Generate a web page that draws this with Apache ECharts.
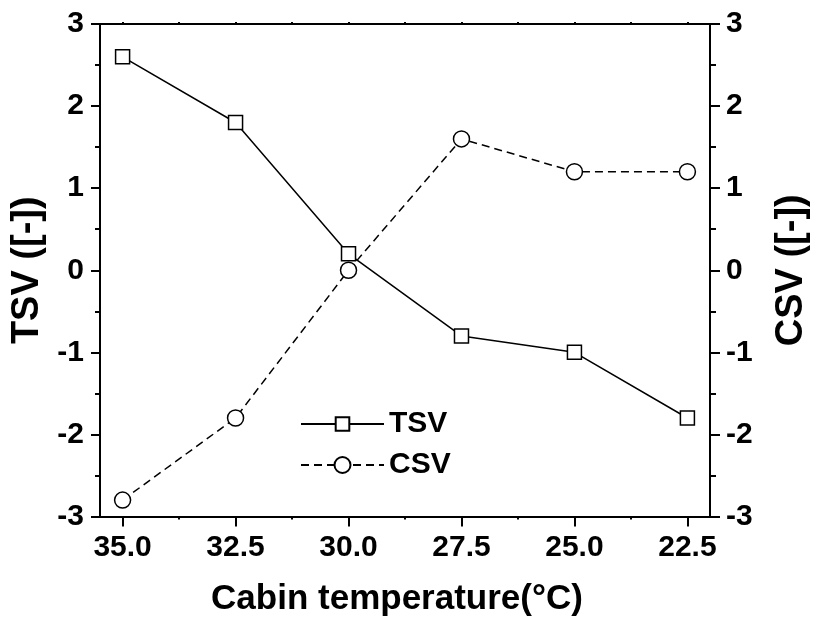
<!DOCTYPE html>
<html>
<head>
<meta charset="utf-8">
<script src="https://cdn.jsdelivr.net/npm/echarts@6/dist/echarts.min.js"></script>
<style>html,body{margin:0;padding:0;background:#fff}#c{width:820px;height:622px}</style>
</head>
<body>
<div id="c"></div>
<script>
var temperatures = [35.0, 32.5, 30.0, 27.5, 25.0, 22.5];
var tsv = [2.6, 1.8, 0.2, -0.8, -1.0, -1.8];
var csv = [-2.8, -1.8, 0.0, 1.6, 1.2, 1.2];
var xTicks = [35.0, 32.5, 30.0, 27.5, 25.0, 22.5];
var xMinorTicks = [33.75, 31.25, 28.75, 26.25, 23.75];

var FONT = 'Liberation Sans, Arial, sans-serif';
var chart = echarts.init(document.getElementById('c'), null, {renderer: 'canvas'});

function pairs(xs, ys) { return xs.map(function (x, i) { return [x, ys[i]]; }); }

var axisLine = {show: true, onZero: false, lineStyle: {color: '#000', width: 2}};
var labelStyle = {color: '#000', fontFamily: FONT, fontWeight: 'bold', fontSize: 30};

var option = {
  animation: false,
  backgroundColor: '#fff',
  grid: {left: 100, right: 110, top: 24, bottom: 101, containLabel: false},
  xAxis: [
    {
      type: 'value', min: 22, max: 35.5, inverse: true, position: 'bottom',
      axisLine: axisLine,
      axisTick: {show: true, customValues: xTicks, length: 10, lineStyle: {color: '#000', width: 2}},
      axisLabel: Object.assign({customValues: xTicks, margin: 16, formatter: function (v) { return v.toFixed(1); }}, labelStyle),
      splitLine: {show: false},
      name: 'Cabin temperature(\u00B0C)', nameLocation: 'middle', nameGap: 83,
      nameTextStyle: {color: '#000', fontFamily: FONT, fontWeight: 'bold', fontSize: 35, verticalAlign: 'middle', padding: [0, 16, 0, 0]}
    },
    {
      type: 'value', min: 22, max: 35.5, inverse: true, position: 'bottom', gridIndex: 0,
      axisLine: {show: false, onZero: false},
      axisTick: {show: true, customValues: xMinorTicks, length: 3, lineStyle: {color: '#000', width: 2}},
      axisLabel: {show: false}, splitLine: {show: false}
    },
    {
      type: 'value', min: 22, max: 35.5, inverse: true, position: 'top', gridIndex: 0,
      axisLine: axisLine,
      axisTick: {show: true, customValues: xTicks.concat(xMinorTicks), length: 2, lineStyle: {color: '#000', width: 2}},
      axisLabel: {show: false}, splitLine: {show: false}
    }
  ],
  yAxis: [
    {
      type: 'value', min: -3, max: 3, interval: 1, position: 'left',
      axisLine: axisLine,
      axisTick: {show: true, length: 9, lineStyle: {color: '#000', width: 2}},
      minorTick: {show: true, splitNumber: 2, length: 5, lineStyle: {color: '#000', width: 2}},
      axisLabel: Object.assign({margin: 16}, labelStyle),
      splitLine: {show: false},
      name: 'TSV ([-])', nameLocation: 'middle', nameGap: 72, nameRotate: 90,
      nameTextStyle: {color: '#000', fontFamily: FONT, fontWeight: 'bold', fontSize: 38, verticalAlign: 'middle'}
    },
    {
      type: 'value', min: -3, max: 3, interval: 1, position: 'right',
      axisLine: axisLine,
      axisTick: {show: true, length: 10, lineStyle: {color: '#000', width: 2}},
      minorTick: {show: true, splitNumber: 2, length: 6, lineStyle: {color: '#000', width: 2}},
      axisLabel: Object.assign({margin: 16}, labelStyle),
      splitLine: {show: false},
      name: 'CSV ([-])', nameLocation: 'middle', nameGap: 82, nameRotate: 90,
      nameTextStyle: {color: '#000', fontFamily: FONT, fontWeight: 'bold', fontSize: 38, verticalAlign: 'middle'}
    }
  ],
  legend: [
    {
      data: ['TSV'], left: 300, top: 409, orient: 'vertical', padding: 0,
      itemWidth: 83, itemHeight: 17,
      textStyle: {color: '#000', fontFamily: FONT, fontWeight: 'bold', fontSize: 30, lineHeight: 30}
    },
    {
      data: ['CSV'], left: 300, top: 450, orient: 'vertical', padding: 0,
      itemWidth: 83, itemHeight: 20,
      textStyle: {color: '#000', fontFamily: FONT, fontWeight: 'bold', fontSize: 30, lineHeight: 30}
    }
  ],
  series: [
    {
      name: 'TSV', type: 'line', xAxisIndex: 0, yAxisIndex: 0,
      data: pairs(temperatures, tsv),
      symbol: 'rect', symbolSize: 14,
      lineStyle: {color: '#000', width: 1.5},
      itemStyle: {color: '#fff', borderColor: '#000', borderWidth: 1.5},
      z: 3
    },
    {
      name: 'CSV', type: 'line', xAxisIndex: 0, yAxisIndex: 1,
      data: pairs(temperatures, csv),
      symbol: 'circle', symbolSize: 16,
      lineStyle: {color: '#000', width: 1.5, type: [8, 5]},
      itemStyle: {color: '#fff', borderColor: '#000', borderWidth: 1.5},
      z: 4
    }
  ]
};
chart.setOption(option);
</script>
</body>
</html>
